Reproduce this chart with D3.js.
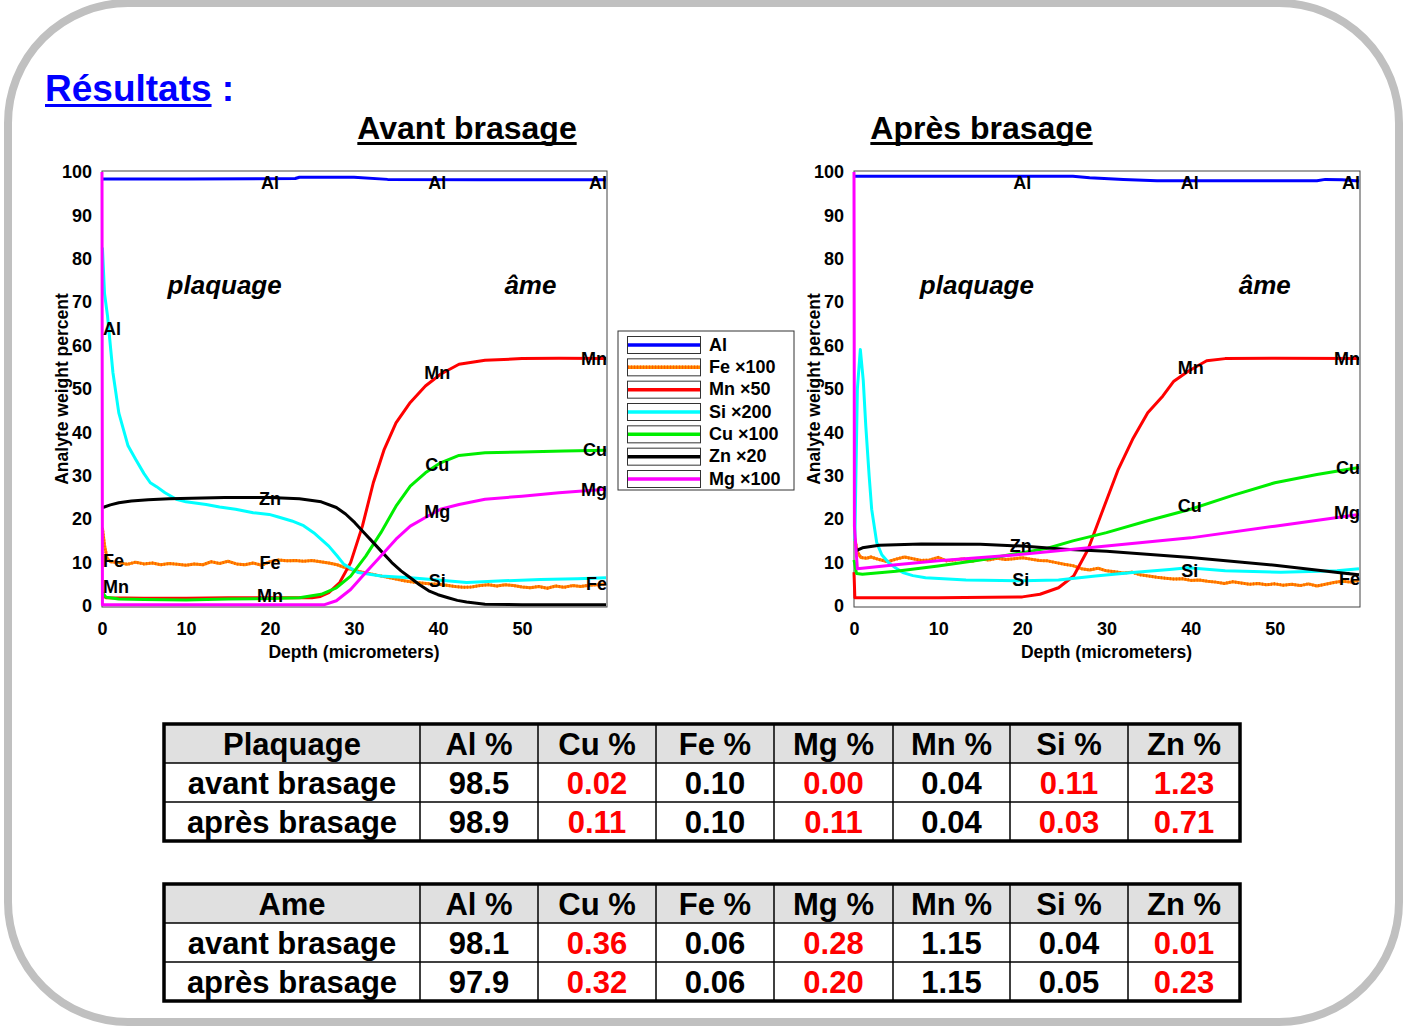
<!DOCTYPE html>
<html><head><meta charset="utf-8">
<script src="https://cdn.jsdelivr.net/npm/d3@7"></script>
<style>
body{margin:0;background:#fff}
svg{display:block}
text{font-family:"Liberation Sans",Arial,sans-serif;font-weight:bold}
</style>
</head><body>
<svg id="c" width="1411" height="1028"></svg>
<script>
// ---------- DATA ----------
const elements = ["Al","Fe","Mn","Si","Cu","Zn","Mg"];
const legendLabels = ["Al","Fe ×100","Mn ×50","Si ×200","Cu ×100","Zn ×20","Mg ×100"];
const xTicks = [0,10,20,30,40,50];
const yTicks = [0,10,20,30,40,50,60,70,80,90,100];

// Avant brasage profiles [depth µm, value]
const avantAl = [[0,98.4],[10,98.4],[23,98.5],[23.5,98.8],[30,98.8],[34,98.3],[45,98.2],[60,98.2]];
const avantFe = [[0.05,18],[0.3,14],[0.6,11],[1,10.2],[2,10],[3,9.6],[4,10.1],[5,9.7],[6,9.9],[7,9.5],[8,9.8],[9,9.6],[10,9.4],[11,9.7],[12,9.5],[13,10.2],[14,9.8],[15,10.3],[16,9.7],[17,9.5],[18,9.9],[19,9.4],[20,10.2],[21,10.6],[22,10.4],[23,10.5],[24,10.3],[25,10.5],[26,10.2],[27,9.9],[28,9.5],[29,8.8],[30,8.2],[31,7.8],[32,7.4],[33,7],[34,6.6],[35,6.2],[36,5.8],[37,5.5],[38,5.3],[39,5.1],[40,5],[41,4.8],[42,4.5],[43,4.3],[44,4.4],[45,4.7],[46,4.9],[47,4.6],[48,4.9],[49,4.7],[50,4.4],[51,4.2],[52,4.5],[53,4.1],[54,4.6],[55,4.3],[56,4.7],[57,4.5],[58,4.8],[59,4.9],[60,5.1]];
const avantMn = [[0,2.5],[0.5,1.9],[5,1.8],[10,1.8],[15,1.9],[20,1.9],[25,1.9],[26,2.2],[27,3.1],[28.3,5.4],[29.6,10],[31,18.4],[32.3,28.4],[33.6,36.1],[35,42.2],[36.7,46.9],[38.5,50.7],[40.3,53.4],[42.5,55.7],[45.6,56.6],[50,57],[54.4,57.1],[60,57]];
const avantSi = [[0.05,82.6],[0.3,72],[0.66,66.8],[1.3,53.8],[2,44.5],[3.1,36.9],[4,33.8],[5,30.5],[5.75,28.4],[6.5,27.5],[7.5,26.1],[8.85,24.6],[10,24],[12.4,23.4],[14,22.8],[15.9,22.3],[18,21.5],[19.9,21.1],[21,20.5],[22.6,19.6],[24,18.5],[25.2,16.9],[27,13.8],[28,11.5],[28.8,9.6],[30.5,7.7],[33.2,6.9],[36.7,6.5],[40,6],[43.4,5.4],[47.8,5.8],[52.2,6.1],[56.6,6.3],[60,6.5]];
const avantCu = [[0,3.2],[0.5,2],[2,1.6],[5,1.5],[10,1.4],[15,1.6],[20,1.7],[23.5,1.9],[26.1,2.7],[27.9,4.2],[29.6,6.9],[31.4,11.5],[33.2,16.9],[35,23],[36.7,27.6],[38.5,30.7],[40.3,33],[42.5,34.7],[45.6,35.3],[50,35.5],[55,35.7],[60,35.9]];
const avantZn = [[0.1,22.7],[1,23.3],[2,23.8],[3.5,24.2],[5.5,24.5],[8,24.7],[14.6,25],[20,25],[23.5,24.7],[26.1,24],[27.9,22.7],[29,21.2],[30.1,19.2],[31.2,16.9],[32.3,14.6],[33.4,12.3],[34.5,10],[35.6,8.1],[36.7,6.5],[37.8,4.9],[38.9,3.5],[40,2.6],[41.2,1.9],[42.3,1.3],[43.4,0.9],[45.6,0.4],[50,0.3],[60,0.3]];
const avantMg = [[0,100],[0.05,0.3],[26.5,0.3],[27.9,1.2],[29.6,3.8],[31.4,7.7],[33.2,11.5],[35,15.4],[36.7,18.4],[38.5,20.4],[40.3,22.3],[42.5,23.4],[45.6,24.6],[50,25.3],[54.4,26.1],[60,26.9]];

// Après brasage profiles
const apresAl = [[0,99],[26,99],[28,98.7],[32,98.3],[36,98],[55,98],[56,98.3],[58,98.2],[60,97.9]];
const apresFe = [[0.1,15.5],[0.4,12.5],[0.8,11.2],[1.5,11],[2,11.3],[3,10.7],[4,10.2],[5,10.8],[6,11.3],[7,10.9],[8,10.5],[9,10.6],[10,11.2],[11,10.4],[12,10.6],[13,10.9],[14,10.3],[15,10.8],[16,10.6],[17,11],[18,10.7],[19,10.9],[20,11.1],[21,10.8],[22,10.5],[23,10.4],[24,10],[25,9.6],[26,9.3],[27,8.6],[28,8.3],[29,8.7],[30,8.1],[31,7.9],[32,7.6],[33,7.8],[34,7.2],[35,6.9],[36,6.6],[37,6.4],[38,6.2],[39,6.3],[40,5.9],[41,6],[42,5.7],[43,5.5],[44,5.2],[45,5.6],[46,5.3],[47,5],[48,5.2],[49,4.9],[50,5.1],[51,4.8],[52,5],[53,4.7],[54,5.1],[55,4.6],[56,5],[57,5.4],[58,5.7],[59,5.5],[60,6]];
const apresMn = [[0,7.8],[0.1,1.9],[10,1.9],[20,2.1],[22.1,2.7],[24.3,4.2],[26.1,6.9],[27.8,13],[29.6,22.3],[31.4,31.5],[33.1,38.4],[34.9,44.5],[36.7,48.4],[38,51.8],[39.7,54.1],[41.9,56.5],[44.1,57],[50,57.1],[60,57]];
const apresSi = [[0.1,15],[0.4,50],[0.75,59.1],[1.1,52],[1.4,41.5],[1.8,30],[2.1,22.3],[2.7,14.6],[3.3,11.8],[4.1,10],[5,8.7],[5.8,7.7],[7,7],[8.5,6.5],[13.3,6],[19.9,5.8],[24.3,6],[28.7,6.9],[33.1,7.7],[37.5,8.4],[39.7,8.8],[44.1,8.1],[50.7,7.8],[57.4,8.1],[60,8.6]];
const apresCu = [[0,10.6],[0.3,7.5],[1,7.3],[5,8],[10,9.2],[15,10.6],[20,12.3],[23,13.3],[26,15],[30,16.9],[35,19.7],[40,22.3],[45,25.5],[50,28.4],[55,30.3],[60,31.9]];
const apresZn = [[0.2,12.7],[1,13.4],[3,14],[8,14.3],[15,14.2],[20,13.8],[25,13.1],[30,12.6],[40,11.2],[50,9.4],[58,7.6],[60,7.2]];
const apresMg = [[0,100],[0.05,18.4],[0.4,8.6],[5,9.5],[10,10.4],[20,11.9],[30,13.8],[40,15.7],[50,18.4],[60,21.1]];

// On-curve labels [text, depth, value, anchor]
const avantLabels = [["Al",20,97.5,"middle"],["Al",39.9,97.5,"middle"],["Al",60,97.5,"end"],["Al",0,64,"start"],
  ["Mn",39.9,53.7,"middle"],["Mn",60,57,"end"],["Cu",39.9,32.5,"middle"],["Cu",60,35.9,"end"],
  ["Mg",39.9,21.7,"middle"],["Mg",60,26.7,"end"],["Zn",20,24.7,"middle"],
  ["Fe",0,10.4,"start"],["Fe",20,9.9,"middle"],["Fe",60,5.1,"end"],
  ["Mn",0,4.4,"start"],["Mn",20,2.3,"middle"],["Si",39.9,5.8,"middle"]];
const apresLabels = [["Al",20,97.5,"middle"],["Al",39.9,97.5,"middle"],["Al",60,97.5,"end"],
  ["Mn",40,54.8,"middle"],["Mn",60,57,"end"],["Cu",39.9,23,"middle"],["Cu",60,31.8,"end"],
  ["Mg",60,21.4,"end"],["Zn",19.8,13.8,"middle"],["Si",19.8,6,"middle"],["Si",39.9,8.1,"middle"],["Fe",60,6.2,"end"]];
const zoneLabels = [["plaquage",14.6,74],["âme",50,74]];

// Tables
const tableCols = ["Al %","Cu %","Fe %","Mg %","Mn %","Si %","Zn %"];
const rowNames = ["avant brasage","après brasage"];
const plaquageAvant = ["98.5","0.02","0.10","0.00","0.04","0.11","1.23"];
const plaquageApres = ["98.9","0.11","0.10","0.11","0.04","0.03","0.71"];
const plaquageHighlight = ["Cu %","Mg %","Si %","Zn %"];
const ameAvant = ["98.1","0.36","0.06","0.28","1.15","0.04","0.01"];
const ameApres = ["97.9","0.32","0.06","0.20","1.15","0.05","0.23"];
const ameHighlight = ["Cu %","Mg %","Zn %"];

// ---------- DRAW ----------
const colors = {Al:"#0000ff",Fe:"#ff8a00",Mn:"#ff0000",Si:"#00ffff",Cu:"#00ee00",Zn:"#000000",Mg:"#ff00ff"};
const svg = d3.select("#c");

// frame
svg.append("rect").attr("x",8).attr("y",3).attr("width",1391).attr("height",1019)
  .attr("rx",120).attr("ry",120).attr("fill","#fff").attr("stroke","#c0c0c0").attr("stroke-width",8);

// title
const t = svg.append("text").attr("x",45).attr("y",101).attr("font-size",37).attr("fill","#0000ff");
const tWord = t.append("tspan").text("Résultats");
t.append("tspan").text(" :");
const wLen = tWord.node().getComputedTextLength();
svg.append("line").attr("x1",45).attr("x2",45+wLen).attr("y1",105.5).attr("y2",105.5).attr("stroke","#0000ff").attr("stroke-width",3);

function chart(cfg){
  const x = d3.scaleLinear().domain([0,60]).range([cfg.x0, cfg.x1]);
  const y = d3.scaleLinear().domain([0,100]).range([606,172]);
  const g = svg.append("g");
  // title
  const tt = g.append("text").attr("x",(cfg.x0+cfg.x1)/2+cfg.tdx).attr("y",139).attr("text-anchor","middle").attr("font-size",32).text(cfg.title);
  const tb = tt.node().getBBox();
  g.append("line").attr("x1",tb.x).attr("x2",tb.x+tb.width).attr("y1",143.5).attr("y2",143.5).attr("stroke","#000").attr("stroke-width",3);
  // plot frame
  g.append("rect").attr("x",cfg.x0).attr("y",171).attr("width",cfg.x1-cfg.x0+1).attr("height",436)
    .attr("fill","#fff").attr("stroke","#444").attr("stroke-width",1);
  // axes
  const ya = g.append("g").attr("transform",`translate(${cfg.x0},0)`)
    .call(d3.axisLeft(y).tickValues(yTicks).tickSize(0).tickPadding(10));
  ya.select(".domain").remove();
  ya.selectAll("text").attr("font-size",18).attr("font-family","Liberation Sans, Arial").attr("font-weight","bold").attr("fill","#000");
  const xa = g.append("g").attr("transform",`translate(0,606)`)
    .call(d3.axisBottom(x).tickValues(xTicks).tickSize(0).tickPadding(16));
  xa.select(".domain").remove();
  xa.selectAll("text").attr("font-size",18).attr("font-family","Liberation Sans, Arial").attr("font-weight","bold").attr("fill","#000");
  g.append("text").attr("x",x(30)).attr("y",658).attr("text-anchor","middle").attr("font-size",17.5).text("Depth (micrometers)");
  g.append("text").attr("transform",`translate(${cfg.x0-34},389) rotate(-90)`).attr("text-anchor","middle").attr("font-size",17.5).text("Analyte weight percent");
  // zone labels
  zoneLabels.forEach(z=>{
    g.append("text").attr("x",x(z[1] + (z[0]==="âme"?cfg.ameShift:0))).attr("y",y(z[2])).attr("dy","0.35em").attr("text-anchor","middle")
      .attr("font-size",26).attr("font-style","italic").text(z[0]);
  });
  // lines
  const line = d3.line().x(d=>x(d[0])).y(d=>y(d[1]));
  elements.forEach(el=>{
    g.append("path").datum(cfg.series[el]).attr("d",line).attr("fill","none")
      .attr("stroke",colors[el]).attr("stroke-width",3).attr("stroke-linejoin","round");
    if(el==="Fe"){
      g.append("path").datum(cfg.series[el]).attr("d",line).attr("fill","none")
        .attr("stroke","#ff5a00").attr("stroke-width",3).attr("stroke-dasharray","1 2");
    }
  });
  // curve labels
  cfg.labels.forEach(l=>{
    g.append("text").attr("x",x(l[1])+(l[3]==="start"?1:(l[3]==="end"?1:0))).attr("y",y(l[2])).attr("dy","0.35em")
      .attr("text-anchor",l[3]).attr("font-size",18).attr("fill","#000").text(l[0]);
  });
}

chart({x0:102,x1:606,title:"Avant brasage",tdx:113,ameShift:1,
  series:{Al:avantAl,Fe:avantFe,Mn:avantMn,Si:avantSi,Cu:avantCu,Zn:avantZn,Mg:avantMg},labels:avantLabels});
chart({x0:854,x1:1359,title:"Après brasage",tdx:-125,ameShift:-1.2,
  series:{Al:apresAl,Fe:apresFe,Mn:apresMn,Si:apresSi,Cu:apresCu,Zn:apresZn,Mg:apresMg},labels:apresLabels});

// legend
const lg = svg.append("g");
lg.append("rect").attr("x",618).attr("y",331).attr("width",176).attr("height",159).attr("fill","#fff").attr("stroke","#333").attr("stroke-width",1);
const ly = d3.scalePoint().domain(elements).range([344.5,478.5]);
elements.forEach((el,i)=>{
  lg.append("rect").attr("x",627.5).attr("y",ly(el)-8).attr("width",73).attr("height",17).attr("fill","#fff").attr("stroke","#333").attr("stroke-width",1);
  lg.append("line").attr("x1",628).attr("x2",700).attr("y1",ly(el)+0.5).attr("y2",ly(el)+0.5).attr("stroke",colors[el]).attr("stroke-width",3.5);
  if(el==="Fe") lg.append("line").attr("x1",628).attr("x2",700).attr("y1",ly(el)+0.5).attr("y2",ly(el)+0.5).attr("stroke","#ff5a00").attr("stroke-width",3.5).attr("stroke-dasharray","1 2");
  lg.append("text").attr("x",709).attr("y",ly(el)).attr("dy","0.35em").attr("font-size",18).text(legendLabels[i]);
});

// tables
function table(top, title, rows, highlight){
  const colEdges = [164,420,538,656,774,893,1010,1128,1240];
  const rowEdges = [top, top+39, top+78, top+117];
  const g = svg.append("g");
  g.append("rect").attr("x",colEdges[0]).attr("y",rowEdges[0]).attr("width",colEdges[8]-colEdges[0]).attr("height",39).attr("fill","#e0e0e0");
  const headers = [title].concat(tableCols);
  const data = [headers, [rowNames[0]].concat(rows[0]), [rowNames[1]].concat(rows[1])];
  data.forEach((r,ri)=>{
    r.forEach((v,ci)=>{
      const red = ri>0 && ci>0 && highlight.includes(tableCols[ci-1]);
      g.append("text").attr("x",(colEdges[ci]+colEdges[ci+1])/2).attr("y",(rowEdges[ri]+rowEdges[ri+1])/2)
        .attr("dy","0.36em").attr("text-anchor","middle").attr("font-size",31)
        .attr("fill",red?"#ff0000":"#000").text(v);
    });
  });
  for(let i=1;i<8;i++) g.append("line").attr("x1",colEdges[i]).attr("x2",colEdges[i]).attr("y1",rowEdges[0]).attr("y2",rowEdges[3]).attr("stroke","#000").attr("stroke-width",1.5);
  for(let j=1;j<3;j++) g.append("line").attr("x1",colEdges[0]).attr("x2",colEdges[8]).attr("y1",rowEdges[j]).attr("y2",rowEdges[j]).attr("stroke","#000").attr("stroke-width",1.5);
  g.append("rect").attr("x",colEdges[0]).attr("y",rowEdges[0]).attr("width",colEdges[8]-colEdges[0]).attr("height",117)
    .attr("fill","none").attr("stroke","#000").attr("stroke-width",3.5);
}
table(724,"Plaquage",[plaquageAvant,plaquageApres],plaquageHighlight);
table(884,"Ame",[ameAvant,ameApres],ameHighlight);
</script>
</body></html>
